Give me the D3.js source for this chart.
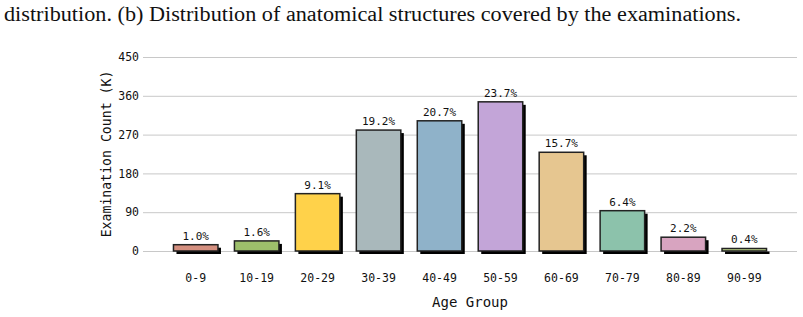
<!DOCTYPE html>
<html>
<head>
<meta charset="utf-8">
<script src="https://cdn.jsdelivr.net/npm/d3@7"></script>
<style>
  body { margin: 0; background: #fff; }
  svg text { font-family: "DejaVu Sans Mono", monospace; fill: #111; }
</style>
</head>
<body>
<svg id="chart" width="803" height="317"></svg>
<script>
// age groups and examination counts (thousands)
var ageGroups = ["0-9", "10-19", "20-29", "30-39", "40-49", "50-59", "60-69", "70-79", "80-89", "90-99"];
var counts = [14.6, 23.4, 133, 280.5, 302, 346, 229, 93.5, 32, 5.8];
var shares = ["1.0%", "1.6%", "9.1%", "19.2%", "20.7%", "23.7%", "15.7%", "6.4%", "2.2%", "0.4%"];
var barColors = ["#d48f7f", "#9dbf6b", "#ffd24a", "#a9b8bb", "#8fb2c9", "#c3a5d8", "#e6c690", "#8cc2ab", "#d8a4c0", "#c2d98a"];
var yTicks = [0, 90, 180, 270, 360, 450];

var svg = d3.select("#chart"),
    margin = {top: 57, right: 6, bottom: 66, left: 143},
    width = +svg.attr("width") - margin.left - margin.right,
    height = +svg.attr("height") - margin.top - margin.bottom;

// caption line cut from the page above the chart
svg.append("text")
    .attr("x", 4)
    .attr("y", 21)
    .attr("textLength", 737)
    .attr("lengthAdjust", "spacingAndGlyphs")
    .style("font-family", "'Liberation Serif', serif")
    .style("font-size", "20px")
    .text("distribution. (b) Distribution of anatomical structures covered by the examinations.");

var g = svg.append("g")
    .attr("transform", "translate(" + margin.left + "," + margin.top + ")");

var x = d3.scaleBand()
    .domain(ageGroups)
    .range([0, width])
    .paddingInner(0.27)
    .paddingOuter(0.5);

var y = d3.scaleLinear()
    .domain([0, 450])
    .range([height, 0]);

// grid + y axis
var yAxis = g.append("g")
    .attr("class", "y-axis")
    .call(d3.axisLeft(y).tickValues(yTicks).tickSize(-width).tickPadding(4));
yAxis.select(".domain").remove();
yAxis.selectAll(".tick line").attr("stroke", "#c8c8c8").attr("stroke-width", 1);
yAxis.selectAll(".tick text").style("font-size", "11.5px").attr("fill", "#111");

var data = ageGroups.map(function (d, i) {
    return {group: d, value: counts[i], share: shares[i], color: barColors[i]};
});

// drop shadows
g.append("g").selectAll("rect")
    .data(data)
    .enter().append("rect")
    .attr("x", function (d) { return x(d.group) + 3; })
    .attr("y", function (d) { return y(d.value) + 3; })
    .attr("width", x.bandwidth())
    .attr("height", function (d) { return height - y(d.value); })
    .attr("fill", "#000");

g.append("g").selectAll("rect")
    .data(data)
    .enter().append("rect")
    .attr("x", function (d) { return x(d.group); })
    .attr("y", function (d) { return y(d.value); })
    .attr("width", x.bandwidth())
    .attr("height", function (d) { return height - y(d.value); })
    .attr("fill", function (d) { return d.color; })
    .attr("stroke", "#222")
    .attr("stroke-width", 1.5);

g.append("g").selectAll("text")
    .data(data)
    .enter().append("text")
    .attr("x", function (d) { return x(d.group) + x.bandwidth() / 2; })
    .attr("y", function (d) { return y(d.value) - 5; })
    .attr("text-anchor", "middle")
    .style("font-size", "11px")
    .attr("fill", "#222")
    .text(function (d) { return d.share; });

// x axis labels, no line
var xAxis = g.append("g")
    .attr("transform", "translate(0," + height + ")")
    .call(d3.axisBottom(x).tickSize(0).tickPadding(23));
xAxis.select(".domain").remove();
xAxis.selectAll(".tick text").style("font-size", "11.5px").attr("fill", "#111");

svg.append("text")
    .attr("x", margin.left + x(ageGroups[0]) + (x(ageGroups[9]) + x.bandwidth() - x(ageGroups[0])) / 2)
    .attr("y", 307)
    .attr("text-anchor", "middle")
    .style("font-size", "14px")
    .text("Age Group");

svg.append("text")
    .attr("transform", "translate(111," + (margin.top + height / 2) + ") rotate(-90)")
    .attr("text-anchor", "middle")
    .style("font-size", "13.2px")
    .text("Examination Count (K)");
</script>
</body>
</html>
